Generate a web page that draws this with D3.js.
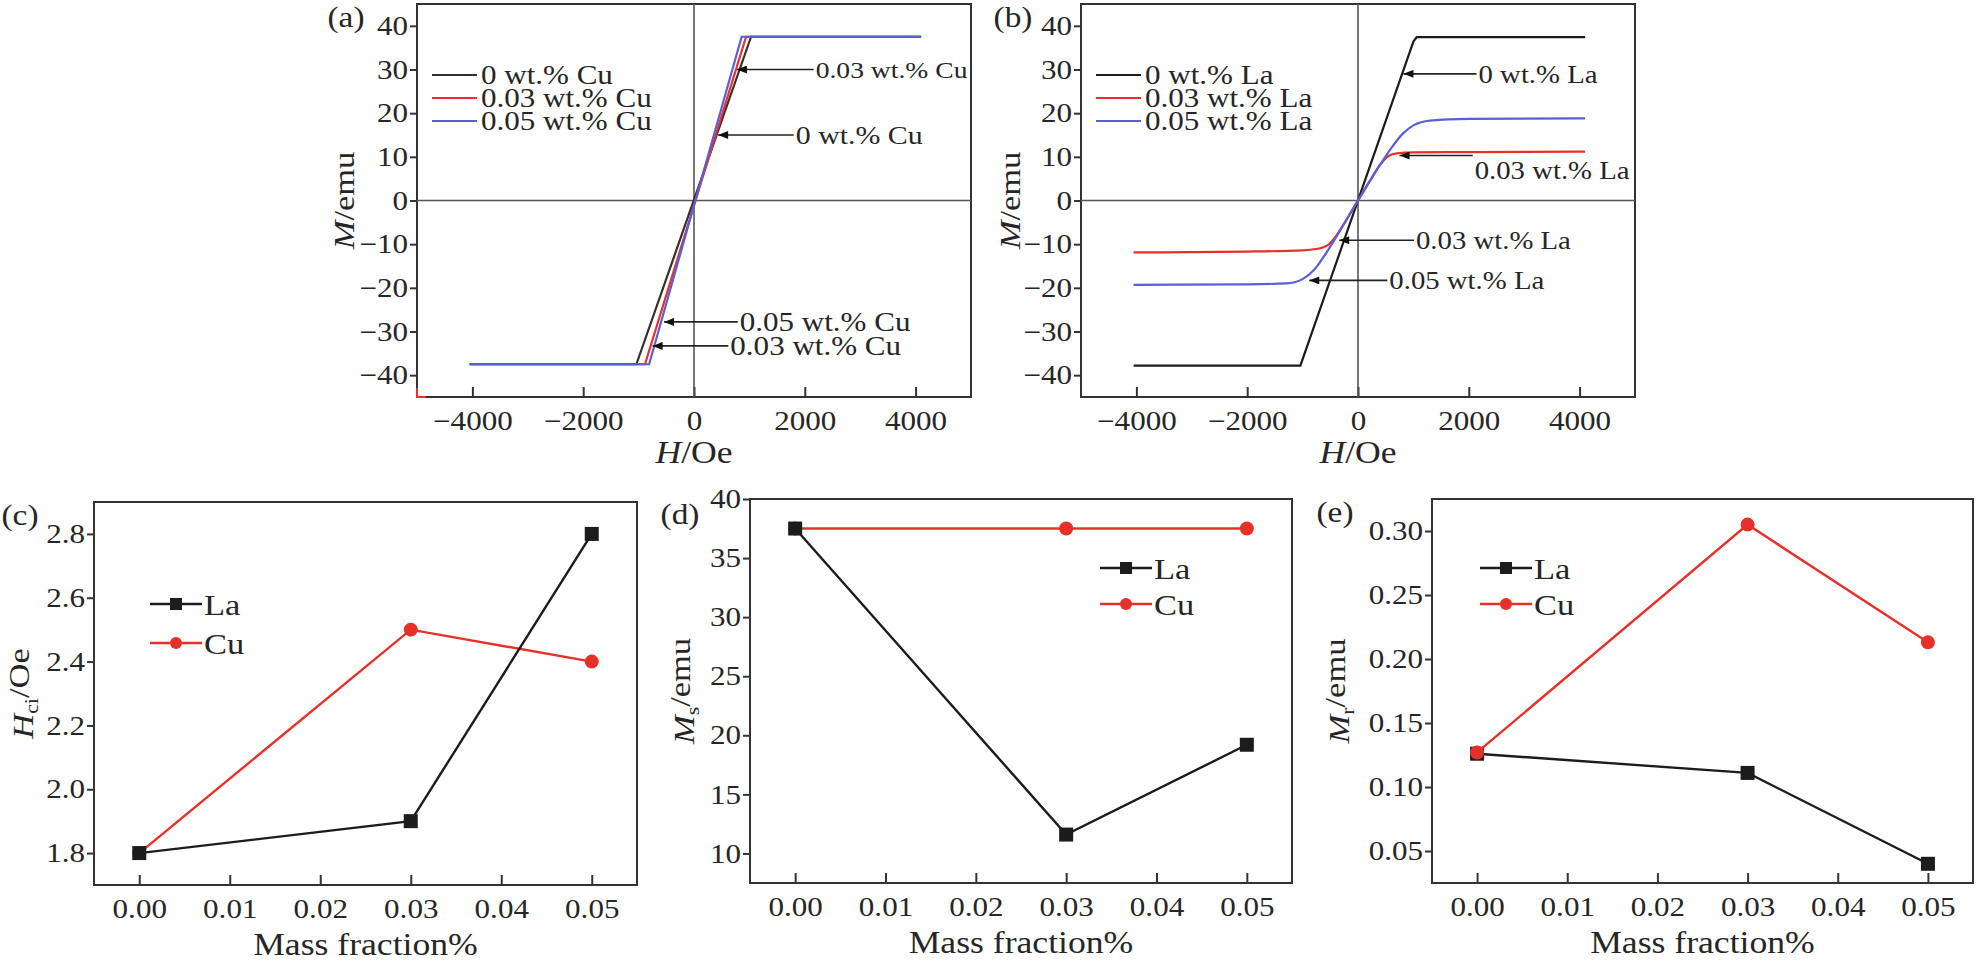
<!DOCTYPE html>
<html>
<head>
<meta charset="utf-8">
<script src="https://cdn.jsdelivr.net/npm/d3@7"></script>
<style>
  body { margin: 0; background: #fff; }
  text { font-family: "Liberation Serif", "Times New Roman", serif; fill: #262626; }
</style>
</head>
<body>
<div id="chart"></div>
<script>
// ---- data: hysteresis loops (a) Cu additions, (b) La additions ----
const fieldTicks = [-4000, -2000, 0, 2000, 4000];
const momentTicks = [-40, -30, -20, -10, 0, 10, 20, 30, 40];

const cuNames = ["0 wt.% Cu", "0.03 wt.% Cu", "0.05 wt.% Cu"];
const cuH = [
  [-4050, -1040, 1030, 4100],
  [-4050, -885, 940, 4100],
  [-4050, -810, 860, 4100]
];
const cuM = [
  [-37.5, -37.5, 37.5, 37.5],
  [-37.5, -37.5, 37.5, 37.5],
  [-37.5, -37.5, 37.5, 37.5]
];

const laNames = ["0 wt.% La", "0.03 wt.% La", "0.05 wt.% La"];
const laH = [
  [-4050, -1040, 1000, 1060, 4100],
  [-4050, -2000, -1000, -700, -550, -400, -200, 0, 200, 400, 550, 700, 1000, 2000, 4100],
  [-4050, -2000, -1300, -1000, -800, -600, -400, 0, 400, 600, 800, 1000, 1300, 2000, 4100]
];
const laM = [
  [-37.8, -37.8, 36.4, 37.4, 37.4],
  [-11.9, -11.7, -11.4, -11.0, -10.3, -8.2, -4.2, 0, 4.2, 8.2, 10.2, 10.8, 11.0, 11.1, 11.2],
  [-19.3, -19.2, -19.0, -18.0, -16.0, -12.5, -8.5, 0, 8.2, 12.0, 15.2, 17.2, 18.3, 18.7, 18.8]
];

// arrow callouts: tip (H, M), where the leader line ends, where the text sits
const cuNotes = [
  { text: "0.03 wt.% Cu", tipH: 775, tipM: 30, endH: 2160, textM: 30, size: 24 },
  { text: "0 wt.% Cu", tipH: 436, tipM: 15, endH: 1800, textM: 15, size: 26 },
  { text: "0.05 wt.% Cu", tipH: -540, tipM: -27.8, endH: 790, textM: -27.8, size: 27 },
  { text: "0.03 wt.% Cu", tipH: -747, tipM: -33.3, endH: 620, textM: -33.3, size: 27 }
];
const laNotes = [
  { text: "0 wt.% La", tipH: 820, tipM: 29, endH: 2140, textM: 29, size: 25 },
  { text: "0.03 wt.% La", tipH: 750, tipM: 10.3, endH: 2070, textM: 7.0, size: 25 },
  { text: "0.03 wt.% La", tipH: -340, tipM: -9.1, endH: 1010, textM: -9.1, size: 25 },
  { text: "0.05 wt.% La", tipH: -880, tipM: -18.3, endH: 530, textM: -18.3, size: 25 }
];

// ---- data: properties vs mass fraction (c) Hci, (d) Ms, (e) Mr ----
const massFraction = [0, 0.03, 0.05];
const massTicks = [0, 0.01, 0.02, 0.03, 0.04, 0.05];
const hciLa = [1.8, 1.9, 2.8];
const hciCu = [1.8, 2.5, 2.4];
const hciTicks = [1.8, 2.0, 2.2, 2.4, 2.6, 2.8];
const msLa = [37.5, 11.6, 19.2];
const msCu = [37.5, 37.5, 37.5];
const msTicks = [10, 15, 20, 25, 30, 35, 40];
const mrLa = [0.126, 0.111, 0.040];
const mrCu = [0.127, 0.305, 0.213];
const mrTicks = [0.05, 0.10, 0.15, 0.20, 0.25, 0.30];

const RED = "#e8302a", BLUE = "#5a5fd6", BLACK = "#1c1c1c";
const WIDEN = 1.15; // the source lettering is drawn a bit wide

const svg = d3.select("#chart").append("svg")
  .attr("width", 1976)
  .attr("height", 962)
  .style("background-color", "white");

svg.append("defs").append("marker")
  .attr("id", "arrow")
  .attr("viewBox", "0 0 10 8")
  .attr("refX", 10).attr("refY", 4)
  .attr("markerWidth", 11).attr("markerHeight", 8)
  .attr("markerUnits", "userSpaceOnUse")
  .attr("orient", "auto")
  .append("path").attr("d", "M0,0 L10,4 L0,8 z").attr("fill", "#111");

// move x/y into a transform so the glyphs can be widened in place
function widen(sel) {
  sel.each(function () {
    const t = d3.select(this);
    const x = +t.attr("x") || 0, y = +t.attr("y") || 0;
    const prev = t.attr("transform") || "";
    t.attr("x", null).attr("y", null)
      .attr("transform", `${prev} translate(${x},${y}) scale(${WIDEN},1)`);
  });
}

// frame + ticks, returns scales
function frame(o) {
  const g = svg.append("g").attr("transform", `translate(${o.left},${o.top})`);
  const w = o.right - o.left, h = o.bottom - o.top;
  const x = d3.scaleLinear().domain(o.xDomain).range([0, w]);
  const y = d3.scaleLinear().domain(o.yDomain).range([h, 0]);

  const xa = g.append("g").attr("transform", `translate(0,${h})`)
    .call(d3.axisBottom(x).tickValues(o.xTicks).tickFormat(o.xFormat)
      .tickSizeInner(-10).tickSizeOuter(0).tickPadding(14));
  const ya = g.append("g")
    .call(d3.axisLeft(y).tickValues(o.yTicks).tickFormat(o.yFormat)
      .tickSizeInner(7).tickSizeOuter(0).tickPadding(2));
  [xa, ya].forEach(a => {
    a.select(".domain").remove();
    a.selectAll("line").attr("stroke", "#333").attr("stroke-width", 2);
    a.selectAll("text").style("font-size", "27px").attr("fill", "#262626")
      .style("font-family", "'Liberation Serif', serif").call(widen);
  });

  g.append("rect").attr("width", w).attr("height", h)
    .attr("fill", "none").attr("stroke", "#333").attr("stroke-width", 2);

  // panel letter
  svg.append("text").attr("x", o.tagX).attr("y", o.tagY)
    .attr("text-anchor", "middle").attr("dy", "0.35em")
    .style("font-size", "29px").text(o.tag).call(widen);

  // x title
  const xt = g.append("text").attr("x", w / 2).attr("y", h + o.xTitleOff)
    .attr("text-anchor", "middle").style("font-size", "31px");
  o.xTitle(xt);
  xt.call(widen);

  // y title
  const yt = g.append("text")
    .attr("transform", `translate(${-o.yTitleOff},${h / 2}) rotate(-90)`)
    .attr("text-anchor", "middle").attr("dy", "0.35em").style("font-size", "30px");
  o.yTitle(yt);
  yt.call(widen);

  return { g, x, y, w, h };
}

function italicTitle(sym, sub, unit) {
  return t => {
    t.append("tspan").style("font-style", "italic").text(sym);
    if (sub) {
      t.append("tspan").attr("dy", "0.3em").style("font-size", "19px").text(sub);
      t.append("tspan").attr("dy", "-0.3em").text("/" + unit);
    } else {
      t.append("tspan").text("/" + unit);
    }
  };
}

// ---- hysteresis panels ----
function loopPanel(o, hs, ms, colors, curves, names, notes) {
  const p = frame(o);
  // zero cross lines
  p.g.append("line").attr("x1", p.x(0)).attr("x2", p.x(0)).attr("y1", 0).attr("y2", p.h)
    .attr("stroke", "#555").attr("stroke-width", 1.6);
  p.g.append("line").attr("x1", 0).attr("x2", p.w).attr("y1", p.y(0)).attr("y2", p.y(0))
    .attr("stroke", "#555").attr("stroke-width", 1.6);

  hs.forEach((hArr, i) => {
    const pts = hArr.map((h, j) => [h, ms[i][j]]);
    p.g.append("path").datum(pts)
      .attr("fill", "none").attr("stroke", colors[i]).attr("stroke-width", 2.2)
      .attr("d", d3.line().x(d => p.x(d[0])).y(d => p.y(d[1])).curve(curves[i]));
  });

  if (o.cornerMark) {
    // small red stub at the lower-left corner of the frame, as in the source
    const x0 = p.x(o.xDomain[0]), y0 = p.y(o.yDomain[0]);
    p.g.append("path").attr("d", `M${x0},${y0 - 9}V${y0}H${x0 + 9}`)
      .attr("fill", "none").attr("stroke", RED).attr("stroke-width", 2);
  }

  // legend
  names.forEach((n, i) => {
    const ly = o.legendY + i * 23;
    p.g.append("line").attr("x1", o.legendX).attr("x2", o.legendX + 45)
      .attr("y1", ly).attr("y2", ly).attr("stroke", colors[i]).attr("stroke-width", 2.2);
    p.g.append("text").attr("x", o.legendX + 49).attr("y", ly).attr("dy", "0.35em")
      .style("font-size", "27px").text(n).call(widen);
  });

  // callouts
  notes.forEach(n => {
    p.g.append("line")
      .attr("x1", p.x(n.endH)).attr("y1", p.y(n.tipM))
      .attr("x2", p.x(n.tipH)).attr("y2", p.y(n.tipM))
      .attr("stroke", "#222").attr("stroke-width", 1.6)
      .attr("marker-end", "url(#arrow)");
    p.g.append("text").attr("x", p.x(n.endH) + 2).attr("y", p.y(n.textM))
      .attr("dy", "0.35em").style("font-size", n.size + "px").text(n.text).call(widen);
  });
}

const hTitle = t => {
  t.append("tspan").style("font-style", "italic").text("H");
  t.append("tspan").text("/Oe");
};
const mTitle = italicTitle("M", null, "emu");

loopPanel({
  left: 417, right: 971, top: 4, bottom: 397,
  xDomain: [-5000, 5000], yDomain: [-45, 45],
  xTicks: fieldTicks, yTicks: momentTicks, xFormat: d3.format("d"), yFormat: d3.format("d"),
  tag: "(a)", tagX: 346, tagY: 17, xTitleOff: 66, yTitleOff: 74,
  xTitle: hTitle, yTitle: mTitle, legendX: 15, legendY: 71, cornerMark: true
}, cuH, cuM, ["#3a2d2d", RED, BLUE], [d3.curveLinear, d3.curveLinear, d3.curveLinear], cuNames, cuNotes);

loopPanel({
  left: 1081, right: 1635, top: 4, bottom: 397,
  xDomain: [-5000, 5000], yDomain: [-45, 45],
  xTicks: fieldTicks, yTicks: momentTicks, xFormat: d3.format("d"), yFormat: d3.format("d"),
  tag: "(b)", tagX: 1013, tagY: 17, xTitleOff: 66, yTitleOff: 72,
  xTitle: hTitle, yTitle: mTitle, legendX: 15, legendY: 71
}, laH, laM, [BLACK, RED, BLUE], [d3.curveLinear, d3.curveMonotoneX, d3.curveMonotoneX], laNames, laNotes);

// ---- mass fraction panels ----
function massPanel(o, la, cu, cuOnTop) {
  const p = frame(o);
  const line = d3.line().x((d, i) => p.x(massFraction[i])).y(d => p.y(d));
  const drawLa = () => {
    p.g.append("path").datum(la).attr("fill", "none").attr("stroke", BLACK)
      .attr("stroke-width", 2.4).attr("d", line);
    p.g.selectAll(null).data(la).join("rect")
      .attr("x", (d, i) => p.x(massFraction[i]) - 7).attr("y", d => p.y(d) - 7)
      .attr("width", 14).attr("height", 14).attr("fill", BLACK);
  };
  const drawCu = () => {
    p.g.append("path").datum(cu).attr("fill", "none").attr("stroke", RED)
      .attr("stroke-width", 2.4).attr("d", line);
    p.g.selectAll(null).data(cu).join("circle")
      .attr("cx", (d, i) => p.x(massFraction[i])).attr("cy", d => p.y(d))
      .attr("r", 7).attr("fill", RED);
  };
  if (cuOnTop) { drawLa(); drawCu(); } else { drawCu(); drawLa(); }

  // legend
  [["La", BLACK, "rect"], ["Cu", RED, "circle"]].forEach((l, i) => {
    const ly = o.legendY + i * o.legendGap;
    p.g.append("line").attr("x1", o.legendX).attr("x2", o.legendX + 52)
      .attr("y1", ly).attr("y2", ly).attr("stroke", l[1]).attr("stroke-width", 2.4);
    if (l[2] === "rect") {
      p.g.append("rect").attr("x", o.legendX + 20).attr("y", ly - 6)
        .attr("width", 12).attr("height", 12).attr("fill", l[1]);
    } else {
      p.g.append("circle").attr("cx", o.legendX + 26).attr("cy", ly).attr("r", 6).attr("fill", l[1]);
    }
    p.g.append("text").attr("x", o.legendX + 54).attr("y", ly).attr("dy", "0.35em")
      .style("font-size", "30px").text(l[0]).call(widen);
  });
}

const massTitle = t => t.text("Mass fraction%");
const common = {
  xDomain: [-0.005, 0.055], xTicks: massTicks, xFormat: d3.format(".2f"),
  xTitleOff: 70, xTitle: massTitle
};

massPanel(Object.assign({}, common, {
  left: 94, right: 637, top: 502, bottom: 885,
  yDomain: [1.7, 2.9], yTicks: hciTicks, yFormat: d3.format(".1f"),
  tag: "(c)", tagX: 20, tagY: 515, yTitleOff: 72,
  yTitle: italicTitle("H", "ci", "Oe"), legendX: 56, legendY: 102, legendGap: 39
}), hciLa, hciCu, false);

massPanel(Object.assign({}, common, {
  left: 750, right: 1292, top: 499, bottom: 883,
  yDomain: [7.5, 40], yTicks: msTicks, yFormat: d3.format("d"),
  tag: "(d)", tagX: 680, tagY: 514, yTitleOff: 67,
  yTitle: italicTitle("M", "s", "emu"), legendX: 350, legendY: 69, legendGap: 36
}), msLa, msCu, false);

massPanel(Object.assign({}, common, {
  left: 1432, right: 1973, top: 499, bottom: 883,
  yDomain: [0.025, 0.325], yTicks: mrTicks, yFormat: d3.format(".2f"),
  tag: "(e)", tagX: 1335, tagY: 512, yTitleOff: 94,
  yTitle: italicTitle("M", "r", "emu"), legendX: 48, legendY: 69, legendGap: 36
}), mrLa, mrCu, true);
</script>
</body>
</html>
